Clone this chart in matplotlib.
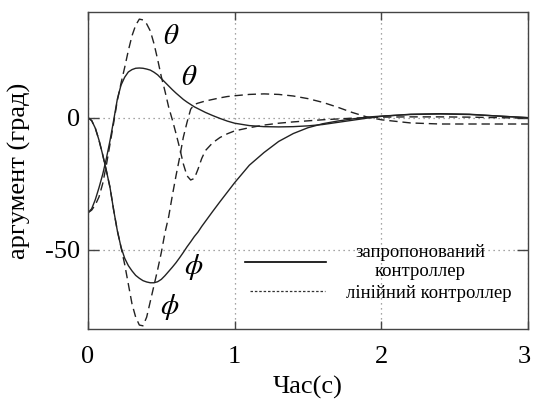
import matplotlib
matplotlib.use("Agg")
import matplotlib.pyplot as plt
import matplotlib.transforms as mtransforms
from matplotlib.lines import Line2D

plt.rcParams['font.family'] = ['Liberation Serif', 'DejaVu Serif']
plt.rcParams['mathtext.fontset'] = 'stix'

# time samples (s)
t = [0, 0.025, 0.05, 0.075, 0.1, 0.125, 0.15, 0.175, 0.2, 0.225, 0.25, 0.275,
     0.3, 0.325, 0.35, 0.375, 0.4, 0.425, 0.45, 0.475, 0.5, 0.525, 0.55, 0.575,
     0.6, 0.625, 0.65, 0.675, 0.7, 0.725, 0.75, 0.775, 0.8, 0.85, 0.9, 0.95,
     1.0, 1.1, 1.2, 1.3, 1.4, 1.5, 1.6, 1.7, 1.8, 1.9, 2.0, 2.2, 2.4, 2.6, 2.8, 3.0]

# proposed controller (solid)
theta_prop = [-36, -34.5, -31, -26.5, -21.5, -15.5, -8.7, -1, 7, 12.3, 15.3, 17.3,
              18.2, 18.7, 18.8, 18.7, 18.4, 18, 17.2, 16.2, 14.8, 13.4, 12, 10.6,
              9.3, 8.1, 6.9, 5.9, 5.0, 4.1, 3.4, 2.7, 2.0, 0.8, -0.3, -1.3,
              -2.1, -3.0, -3.4, -3.5, -3.4, -3.1, -2.6, -1.8, -1.0, -0.2, 0.5, 1.3, 1.5, 1.3, 0.6, 0]
phi_prop = [0, -1.1, -4, -8.5, -14, -20, -26.4, -35, -42.8, -49, -53.2, -56,
            -58, -59.7, -60.8, -61.7, -62.2, -62.5, -62.5, -62.1, -61.2, -59.8, -58.2, -56.6,
            -54.9, -53, -51, -48.9, -47, -45, -43.3, -41.2, -39.3, -35.5, -31.8, -28.2,
            -24.6, -18, -13.2, -9, -6, -3.8, -2.3, -1.3, -0.5, 0.2, 0.6, 1.2, 1.4, 1.2, 0.6, 0]

# linear controller (dashed)
theta_lin = [-36, -35, -33, -30, -25, -18, -10, -2, 6.5, 13, 19, 25.4,
             31, 35, 37.3, 37, 35.5, 32.8, 28, 22, 15.5, 10, 4, -0.8,
             -6, -11.5, -17.5, -22, -23.6, -23, -19.5, -15.5, -12.5, -9.5, -7.5, -6.1,
             -5, -3.8, -2.8, -2.1, -1.6, -1.2, -0.8, -0.5, -0.2, 0, 0.2, 0.3, 0.3, 0.2, 0, -0.2]
phi_lin = [0, -1.1, -4, -8.5, -14, -20, -26.4, -35, -42.8, -49, -55.5, -63,
           -70.5, -75.5, -78.5, -78.8, -75.5, -69.5, -63.5, -57.5, -51, -43.5, -37.5, -29.5,
           -22, -15, -7.4, -1.8, 3.2, 5, 5.5, 5.9, 6.3, 6.9, 7.5, 8,
           8.3, 8.8, 9, 8.8, 8.2, 7.2, 5.8, 4, 2, 0.3, -0.8, -2, -2.4, -2.4, -2.4, -2.4]

xticks = [0, 1, 2, 3]
yticks = [-50, 0]

fig = plt.figure(figsize=(5.33, 4.01), dpi=100)
ax = fig.add_axes([88/533, 1-329/401, 440/533, 317/401])

lc = '#222222'
dash = (0, (6, 3.5))
ax.plot(t, theta_prop, color=lc, lw=1.0)
ax.plot(t, phi_prop, color=lc, lw=1.0)
ax.plot(t, theta_lin, color=lc, lw=1.0, linestyle=dash)
ax.plot(t, phi_lin, color=lc, lw=1.0, linestyle=dash)

ax.set_xlim(0, 3)
ax.set_ylim(-80, 40)
ax.set_xticks(xticks)
ax.set_yticks(yticks)
ax.set_xticklabels([str(v) for v in xticks])
ax.set_yticklabels([str(v) for v in yticks])
ax.tick_params(axis='both', direction='in', labelsize=19, colors='#444444',
               labelcolor='black', width=1.0)
ax.tick_params(axis='x', length=6, pad=12, top=True)
ax.tick_params(axis='y', length=8, pad=6, right=True)
ax.grid(True, linestyle=(0, (1, 3)), color='#888888', lw=0.9)
for s in ax.spines.values():
    s.set_color('#444444')
    s.set_linewidth(1.0)

# nudge last x tick label so it stays inside the canvas
lab = ax.get_xticklabels()[-1]
lab.set_transform(lab.get_transform() +
                  mtransforms.ScaledTranslation(-4/100, 0, fig.dpi_scale_trans))

ax.set_xlabel('Час(с)', fontsize=19, labelpad=6)
ax.set_ylabel('аргумент (град)', fontsize=19, labelpad=10)

ax.text(0.566, 30.7, r'$\theta$', fontsize=21, ha='center', va='center')
ax.text(0.69, 15, r'$\theta$', fontsize=21, ha='center', va='center')
ax.text(0.72, -56.5, r'$\phi$', fontsize=21, ha='center', va='center')
ax.text(0.56, -71.6, r'$\phi$', fontsize=21, ha='center', va='center')

h1 = Line2D([], [], color='black', lw=1.2)
h2 = Line2D([], [], color='#333333', lw=0.9, linestyle=(0, (2, 1.5)))
leg1 = ax.legend([h1], ['запропонований\nконтроллер'], loc='center left',
                 bbox_to_anchor=((245-88)/440, 1-(262-12)/317), frameon=False,
                 fontsize=13.5, handlelength=4.3, handletextpad=1.6,
                 borderpad=0, borderaxespad=0)
for tx in leg1.get_texts():
    tx.set_multialignment('center')
ax.add_artist(leg1)
leg2 = ax.legend([h2], ['лінійний контроллер'], loc='center left',
                 bbox_to_anchor=((250-88)/440, 1-(293-12)/317), frameon=False,
                 fontsize=13.5, handlelength=4.0, handletextpad=1.1,
                 borderpad=0, borderaxespad=0)

fig.savefig('out.png', dpi=100)
